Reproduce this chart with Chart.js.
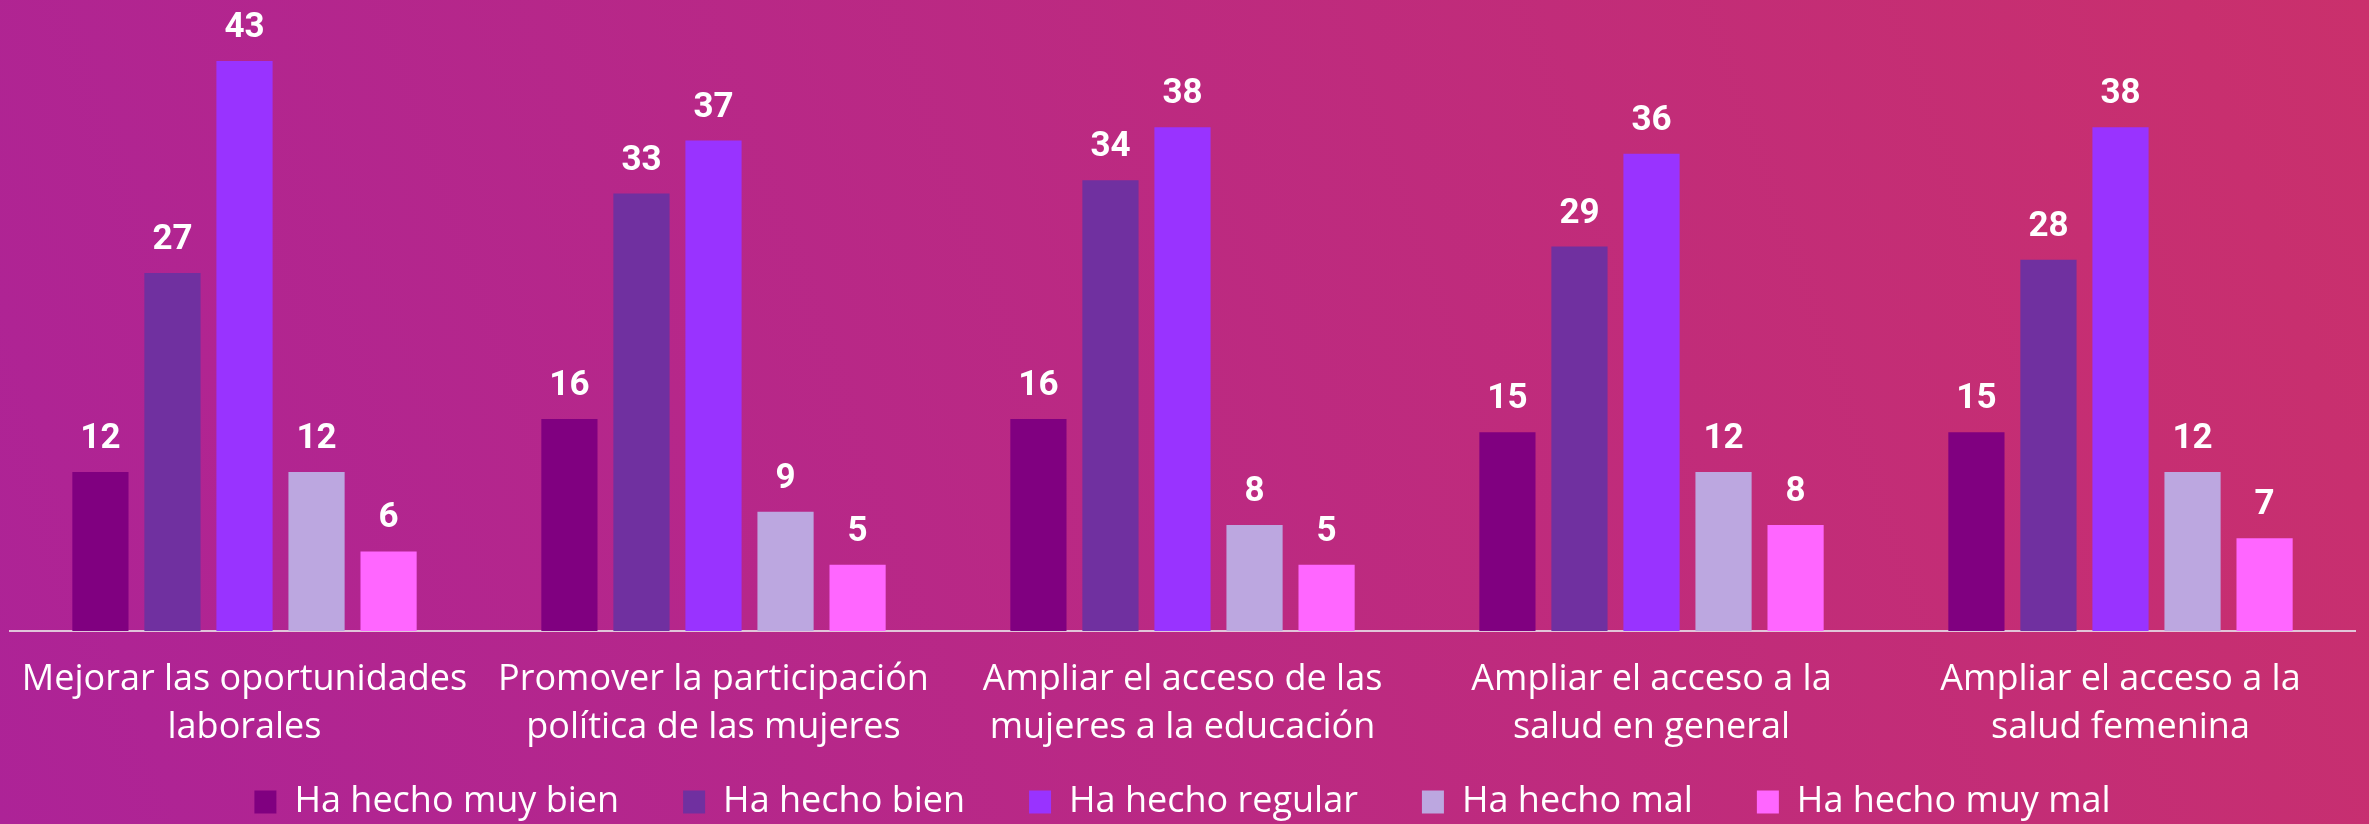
<!DOCTYPE html>
<html>
<head>
<meta charset="utf-8">
<script src="https://cdn.jsdelivr.net/npm/chart.js@4"></script>
<style>
  html, body { margin: 0; padding: 0; background: #bb2a84; }
  #wrap { width: 2369px; height: 824px; }
</style>
</head>
<body>
<div id="wrap"><canvas id="acciones" width="2369" height="824"></canvas></div>
<script>
var categorias = [
    ["Mejorar las oportunidades", "laborales"],
    ["Promover la participación", "política de las mujeres"],
    ["Ampliar el acceso de las", "mujeres a la educación"],
    ["Ampliar el acceso a la", "salud en general"],
    ["Ampliar el acceso a la", "salud femenina"]
];
var series = ["Ha hecho muy bien", "Ha hecho bien", "Ha hecho regular", "Ha hecho mal", "Ha hecho muy mal"];
var muyBien = [12, 16, 16, 15, 15];
var bien    = [27, 33, 34, 29, 28];
var regular = [43, 37, 38, 36, 38];
var mal     = [12, 9, 8, 12, 12];
var muyMal  = [6, 5, 5, 8, 7];
var colores = ["#800080", "#7030a0", "#9933ff", "#bca7e0", "#ff66ff"];

var valores = [muyBien, bien, regular, mal, muyMal];
var FONT = "'Open Sans'";

// fondo degradado
var fondo = {
    id: "fondo",
    beforeDraw: function (chart) {
        var c = chart.ctx;
        var g = c.createLinearGradient(0, chart.height, chart.width, 0);
        g.addColorStop(0, "#ad2397");
        g.addColorStop(1, "#ca306c");
        c.save();
        c.fillStyle = g;
        c.fillRect(0, 0, chart.width, chart.height);
        c.restore();
    }
};

// el eje x recorta sus etiquetas a su caja: la alargamos hasta abajo
var ejeX = {
    id: "ejeX",
    afterLayout: function (chart) {
        chart.scales.x.bottom = chart.height;
    }
};

// etiquetas de valor encima de cada barra
var etiquetas = {
    id: "etiquetas",
    afterDatasetsDraw: function (chart) {
        var c = chart.ctx;
        c.save();
        c.fillStyle = "#ffffff";
        c.font = "bold 35px Roboto";
        c.textAlign = "center";
        c.textBaseline = "alphabetic";
        chart.data.datasets.forEach(function (ds, i) {
            chart.getDatasetMeta(i).data.forEach(function (bar, j) {
                c.fillText(ds.data[j], bar.x, bar.y - 24);
            });
        });
        c.restore();
    }
};

var ctx = document.getElementById("acciones");
var grafico = new Chart(ctx, {
    type: "bar",
    data: {
        labels: categorias,
        datasets: series.map(function (s, i) {
            return {
                label: s,
                data: valores[i],
                backgroundColor: colores[i],
                borderWidth: 0
            };
        })
    },
    options: {
        responsive: false,
        animation: false,
        devicePixelRatio: 1,
        layout: { padding: { left: 10, right: 14, top: 8, bottom: -6 } },
        datasets: { bar: { categoryPercentage: 0.768, barPercentage: 0.78 } },
        plugins: {
            tooltip: { enabled: false },
            legend: {
                position: "bottom",
                labels: {
                    color: "#ffffff",
                    font: { family: FONT, size: 36 },
                    boxWidth: 22,
                    boxHeight: 23,
                    padding: 64
                }
            }
        },
        scales: {
            x: {
                grid: { display: false, drawTicks: false },
                border: { display: true, color: "rgba(228,205,222,0.95)", width: 2 },
                ticks: {
                    color: "#ffffff",
                    font: { family: FONT, size: 36, lineHeight: "48px" },
                    padding: 25,
                    maxRotation: 0,
                    autoSkip: false
                },
                afterFit: function (scale) {
                    scale.height = 89;
                    scale.paddingLeft = 0;
                    scale.paddingRight = 0;
                }
            },
            y: {
                display: false,
                min: 0,
                max: 47
            }
        }
    },
    plugins: [fondo, ejeX, etiquetas]
});
</script>
</body>
</html>
